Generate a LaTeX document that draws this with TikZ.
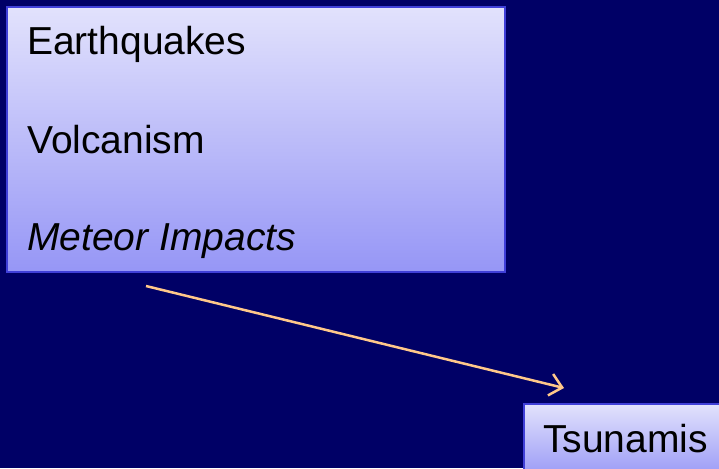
\documentclass[tikz,border=0pt]{standalone}
\usepackage{fontspec}
\setmainfont{Liberation Sans}
\usetikzlibrary{arrows.meta}
\definecolor{bg}{HTML}{000066}
\definecolor{boxtop}{HTML}{E2E2FC}
\definecolor{boxbot}{HTML}{9696F6}
\definecolor{boxline}{HTML}{4040D8}
\definecolor{arrowc}{HTML}{FFC88A}
\tikzset{
  panel/.style={draw=boxline, line width=2.5pt, top color=boxtop, bottom color=boxbot},
  label/.style={anchor=base west, inner sep=0pt, font=\fontsize{39}{47}\selectfont, text=black},
  conn/.style={draw=arrowc, line width=2.5pt, -{Straight Barb[length=12pt,width=22pt,line width=2.5pt]}}
}
\begin{document}
\begin{tikzpicture}[x=1pt,y=-1pt]
\useasboundingbox (0,0) rectangle (719,468);
\clip (0,0) rectangle (719,468);
\fill[bg] (0,0) rectangle (719,468);
\path[panel] (7,7) rectangle (505,272);
\node[label] (eq) at (27,55) {Earthquakes};
\node[label] (vol) at (27,153) {Volcanism};
\node[label] (met) at (27,250) {\itshape Meteor Impacts};
\path[panel] (524,404) rectangle (730,480);
\node[label] (tsu) at (543,452) {Tsunamis};
\coordinate (astart) at (146,286);
\coordinate (aend) at (564,388);
\draw[conn] (astart) -- (aend);
\end{tikzpicture}
\end{document}
